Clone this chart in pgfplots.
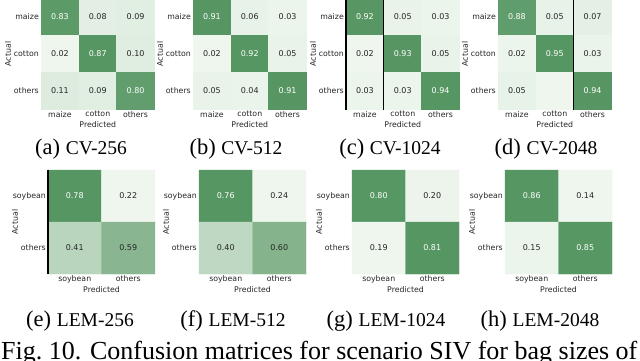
\documentclass[border=0pt]{standalone}
\usepackage{fontspec}
\setmainfont{DejaVu Sans}
\newfontfamily\capfont{Liberation Serif}
\usepackage{pgfplots}
\pgfplotsset{compat=1.18}

\pgfplotsset{
  cm/.style={
    scale only axis,
    y dir=reverse,
    enlargelimits=false,
    clip=false,
    axis line style={draw=none},
    major tick length=0pt,
    tick style={draw=none},
    colormap={greens}{rgb255=(238,246,238) rgb255=(86,150,98)},
    tick label style={font=\fontsize{7.8}{9}\selectfont, text=black!85},
    xticklabel style={inner sep=1.5pt},
    yticklabel style={inner sep=2pt},
    every axis x label/.style={at={(axis description cs:0.5,0)}, anchor=north,
      yshift=-9pt, font=\fontsize{7.8}{9}\selectfont, text=black!85},
    every axis y label/.style={at={(axis description cs:0,0.5)}, xshift=-33pt,
      rotate=90, anchor=center, font=\fontsize{7.8}{9}\selectfont, text=black!85},
    xlabel=Predicted, ylabel=Actual,
  },
  cm3/.style={cm, width=113.5pt, height=111pt,
    xmin=-0.5, xmax=2.5, ymin=-0.5, ymax=2.5,
    xtick={0,1,2}, ytick={0,1,2},
    xticklabels={maize,cotton,others}, yticklabels={maize,cotton,others}},
  cm2/.style={cm, width=107pt, height=104pt,
    xmin=-0.5, xmax=1.5, ymin=-0.5, ymax=1.5,
    xtick={0,1}, ytick={0,1},
    xticklabels={soybean,others}, yticklabels={soybean,others}},
  heat3/.style={matrix plot*, mesh/cols=3, point meta=explicit},
  heat2/.style={matrix plot*, mesh/cols=2, point meta=explicit},
  lbl/.style={only marks, mark=none, nodes near coords, point meta=explicit symbolic,
    every node near coord/.append style={font=\fontsize{8}{9}\selectfont, anchor=center, text=#1}},
  lblw/.style={lbl=white},
  lbld/.style={lbl=black!85},
}

\newcommand\subcap[4]{\node[anchor=base, font=\capfont, inner sep=0pt] at (#1,#2)
  {{\fontsize{22.5}{26}\selectfont(#3) }{\fontsize{19.5}{23}\selectfont #4}};}

\begin{document}
\begin{tikzpicture}[x=1pt,y=1pt]
\useasboundingbox (0,0) rectangle (640,360);
\fill[white] (0,0) rectangle (640,360);
\clip (0,0) rectangle (640,360);

% (a) CV-256
\begin{axis}[cm3, at={(41pt,361.5pt)}, anchor=north west]
\addplot[heat3] table[meta=v] {
x y v
0 0 0.83
1 0 0.08
2 0 0.09
0 1 0.02
1 1 0.87
2 1 0.10
0 2 0.11
1 2 0.09
2 2 0.80
};
\addplot[lblw] coordinates {(0,0)[0.83] (1,1)[0.87] (2,2)[0.80]};
\addplot[lbld] coordinates {(1,0)[0.08] (2,0)[0.09] (0,1)[0.02] (2,1)[0.10] (0,2)[0.11] (1,2)[0.09]};
\end{axis}

% (b) CV-512
\begin{axis}[cm3, at={(193pt,361.5pt)}, anchor=north west]
\addplot[heat3] table[meta=v] {
x y v
0 0 0.91
1 0 0.06
2 0 0.03
0 1 0.02
1 1 0.92
2 1 0.05
0 2 0.05
1 2 0.04
2 2 0.91
};
\addplot[lblw] coordinates {(0,0)[0.91] (1,1)[0.92] (2,2)[0.91]};
\addplot[lbld] coordinates {(1,0)[0.06] (2,0)[0.03] (0,1)[0.02] (2,1)[0.05] (0,2)[0.05] (1,2)[0.04]};
\end{axis}

% (c) CV-1024
\begin{axis}[cm3, at={(346pt,361.5pt)}, anchor=north west]
\addplot[heat3] table[meta=v] {
x y v
0 0 0.92
1 0 0.05
2 0 0.03
0 1 0.02
1 1 0.93
2 1 0.05
0 2 0.03
1 2 0.03
2 2 0.94
};
\addplot[lblw] coordinates {(0,0)[0.92] (1,1)[0.93] (2,2)[0.94]};
\addplot[lbld] coordinates {(1,0)[0.05] (2,0)[0.03] (0,1)[0.02] (2,1)[0.05] (0,2)[0.03] (1,2)[0.03]};
\draw[black, line width=1.4pt] (axis cs:-0.5,-0.5) -- (axis cs:-0.5,2.5);
\draw[black, line width=1.2pt] (axis cs:0.5,-0.5) -- (axis cs:0.5,2.5);
\end{axis}

% (d) CV-2048
\begin{axis}[cm3, at={(498pt,361.5pt)}, anchor=north west]
\addplot[heat3] table[meta=v] {
x y v
0 0 0.88
1 0 0.05
2 0 0.07
0 1 0.02
1 1 0.95
2 1 0.03
0 2 0.05
1 2 0.01
2 2 0.94
};
\addplot[lblw] coordinates {(0,0)[0.88] (1,1)[0.95] (2,2)[0.94]};
\addplot[lbld] coordinates {(1,0)[0.05] (2,0)[0.07] (0,1)[0.02] (2,1)[0.03] (0,2)[0.05]};
\draw[black, line width=1.2pt] (axis cs:1.5,-0.5) -- (axis cs:1.5,2.5);
\end{axis}

% (e) LEM-256
\begin{axis}[cm2, at={(48pt,190pt)}, anchor=north west]
\addplot[heat2] table[meta=v] {
x y v
0 0 0.78
1 0 0.22
0 1 0.41
1 1 0.59
};
\addplot[lblw] coordinates {(0,0)[0.78]};
\addplot[lbld] coordinates {(1,0)[0.22] (0,1)[0.41] (1,1)[0.59]};
\draw[black, line width=1.2pt] (axis cs:-0.5,-0.5) -- (axis cs:-0.5,1.5);
\end{axis}

% (f) LEM-512
\begin{axis}[cm2, at={(199pt,190pt)}, anchor=north west]
\addplot[heat2] table[meta=v] {
x y v
0 0 0.76
1 0 0.24
0 1 0.40
1 1 0.60
};
\addplot[lblw] coordinates {(0,0)[0.76]};
\addplot[lbld] coordinates {(1,0)[0.24] (0,1)[0.40] (1,1)[0.60]};
\end{axis}

% (g) LEM-1024
\begin{axis}[cm2, at={(352pt,190pt)}, anchor=north west]
\addplot[heat2] table[meta=v] {
x y v
0 0 0.80
1 0 0.20
0 1 0.19
1 1 0.81
};
\addplot[lblw] coordinates {(0,0)[0.80] (1,1)[0.81]};
\addplot[lbld] coordinates {(1,0)[0.20] (0,1)[0.19]};
\end{axis}

% (h) LEM-2048
\begin{axis}[cm2, at={(505pt,190pt)}, anchor=north west]
\addplot[heat2] table[meta=v] {
x y v
0 0 0.86
1 0 0.14
0 1 0.15
1 1 0.85
};
\addplot[lblw] coordinates {(0,0)[0.86] (1,1)[0.85]};
\addplot[lbld] coordinates {(1,0)[0.14] (0,1)[0.15]};
\end{axis}

\subcap{81}{206}{a}{CV-256}
\subcap{236}{206}{b}{CV-512}
\subcap{390}{206}{c}{CV-1024}
\subcap{546}{206}{d}{CV-2048}
\subcap{80}{34}{e}{LEM-256}
\subcap{233}{34}{f}{LEM-512}
\subcap{386}{34}{g}{LEM-1024}
\subcap{540}{34}{h}{LEM-2048}

\node[anchor=base west, inner sep=0pt, font=\capfont\fontsize{26}{30}\selectfont] at (1,0.5)
  {Fig.~10. Confusion matrices for scenario SIV for bag sizes of};
\end{tikzpicture}
\end{document}
